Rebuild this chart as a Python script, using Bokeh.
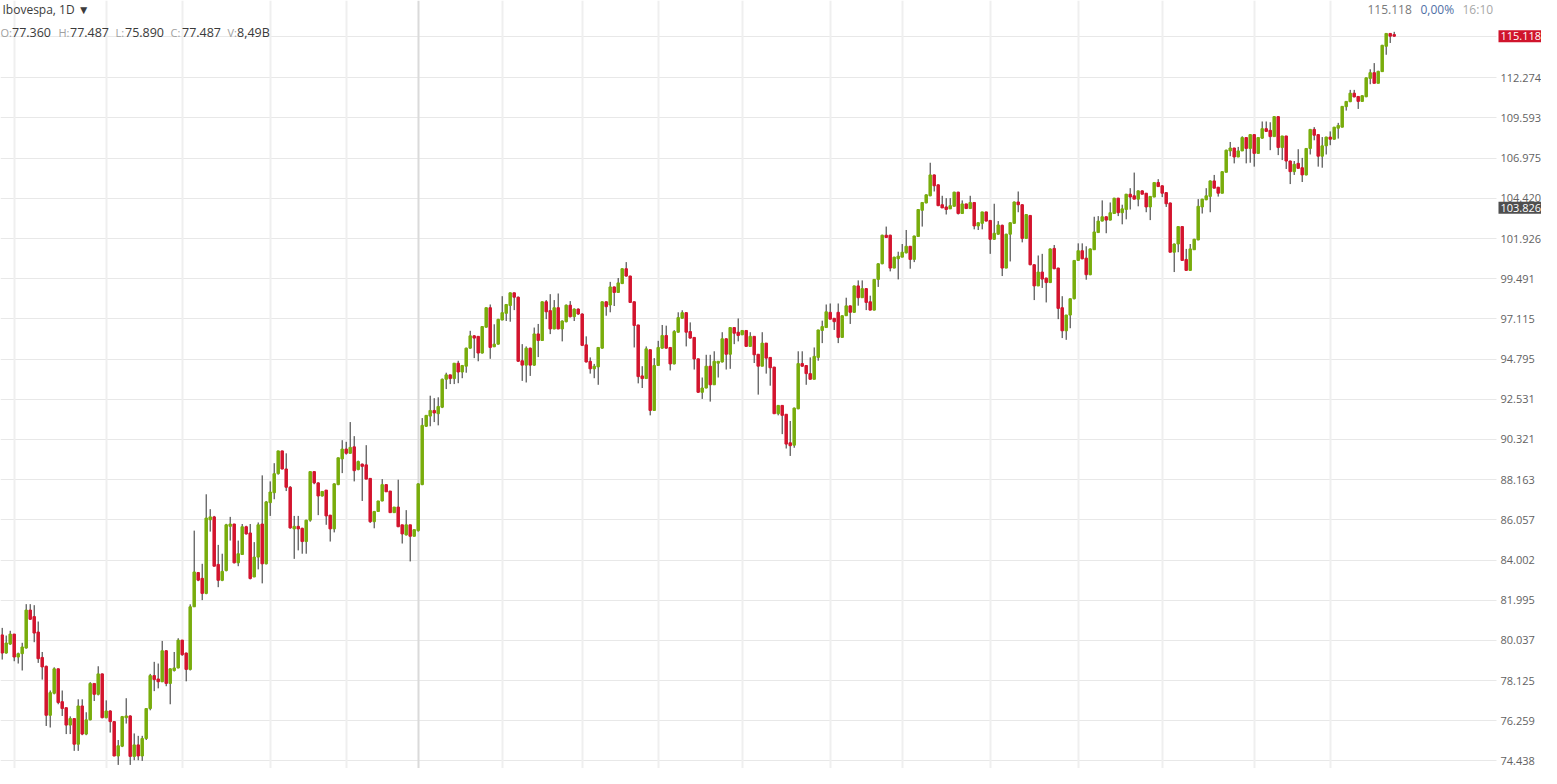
from bokeh.plotting import figure
from bokeh.models import (Range1d, FixedTicker, PrintfTickFormatter, Grid, Label,
                          ColumnDataSource, BoxAnnotation)
from bokeh.embed import file_html
from bokeh.resources import INLINE

# ---------------- data (Ibovespa daily, thousands of points) ----------------
opens = [
    80.30, 79.43, 79.86, 80.34, 79.24, 79.40, 79.67, 81.51, 81.19, 80.44,
    79.22, 78.80, 76.51, 77.53, 78.68, 77.14, 76.86, 76.06, 76.36, 75.19,
    76.94, 75.65, 76.30, 77.99, 77.48, 78.44, 76.40, 76.71, 76.22, 74.66,
    75.10, 76.40, 76.48, 74.64, 75.16, 74.66, 75.45, 76.82, 78.36, 78.20,
    78.07, 79.54, 77.99, 78.60, 78.72, 80.05, 79.43, 78.65, 81.67, 83.37,
    83.08, 82.33, 86.06, 86.21, 83.78, 82.98, 83.47, 85.72, 85.84, 83.86,
    84.28, 85.70, 85.38, 83.15, 84.15, 85.84, 83.81, 86.95, 87.47, 88.48,
    89.70, 88.73, 87.76, 85.59, 85.72, 85.62, 84.94, 86.04, 88.59, 87.99,
    87.30, 87.61, 86.30, 85.59, 87.90, 89.27, 89.80, 89.57, 89.92, 88.70,
    88.99, 88.95, 88.23, 85.96, 86.49, 87.04, 87.90, 87.56, 86.43, 86.72,
    85.80, 85.28, 85.80, 85.21, 85.50, 87.90, 91.04, 91.60, 91.91, 91.73,
    92.09, 93.65, 93.90, 93.69, 94.56, 94.06, 94.39, 95.42, 96.13, 96.10,
    95.14, 96.63, 97.77, 95.50, 95.65, 97.05, 97.44, 97.90, 98.65, 98.39,
    94.70, 94.45, 95.42, 94.45, 96.24, 95.86, 98.12, 97.60, 96.53, 97.77,
    96.53, 96.95, 97.92, 97.24, 97.69, 97.40, 95.61, 94.67, 94.24, 94.35,
    95.42, 98.12, 97.93, 99.00, 98.67, 99.20, 100.09, 99.65, 98.12, 96.76,
    93.84, 93.69, 95.33, 91.91, 94.43, 95.42, 96.15, 95.46, 94.52, 96.34,
    97.15, 97.48, 96.38, 96.04, 94.81, 92.92, 93.16, 94.39, 93.34, 94.56,
    94.63, 95.96, 95.07, 96.61, 96.34, 96.19, 96.44, 95.52, 96.10, 95.07,
    94.39, 95.71, 94.89, 94.34, 91.73, 92.19, 91.70, 90.14, 90.01, 92.00,
    94.54, 94.43, 93.97, 93.65, 94.89, 96.44, 96.61, 97.50, 97.15, 97.50,
    96.04, 97.30, 97.88, 97.50, 99.06, 98.36, 98.90, 98.12, 97.63, 99.45,
    100.39, 102.13, 102.13, 100.13, 100.69, 100.79, 101.05, 101.45, 100.65, 102.05,
    103.67, 104.13, 104.58, 105.90, 105.27, 104.02, 103.88, 103.76, 103.92, 104.81,
    103.47, 104.07, 103.78, 104.16, 102.70, 102.86, 103.57, 103.04, 101.88, 102.19,
    102.74, 100.13, 102.19, 102.86, 104.19, 104.02, 101.93, 103.35, 100.33, 99.06,
    99.89, 99.53, 99.26, 101.32, 100.13, 97.77, 96.42, 97.34, 98.30, 100.59,
    101.18, 100.73, 99.73, 101.24, 102.29, 103.00, 103.27, 103.06, 103.47, 104.43,
    103.52, 103.72, 104.68, 104.58, 104.37, 104.89, 104.74, 103.88, 104.50, 105.42,
    105.21, 104.78, 104.13, 101.09, 101.59, 102.66, 100.65, 99.99, 101.24, 101.84,
    103.88, 104.33, 104.54, 105.52, 105.12, 104.74, 106.07, 107.44, 107.63, 107.05,
    107.44, 108.31, 107.60, 108.50, 107.28, 108.27, 108.89, 108.78, 108.37, 109.68,
    107.66, 108.41, 106.79, 106.11, 106.64, 106.36, 105.90, 107.60, 108.84, 108.50,
    107.10, 107.77, 108.34, 108.20, 108.92, 108.99, 110.34, 110.67, 111.24, 111.02,
    110.69, 111.00, 112.23, 112.62, 111.90, 112.69, 114.42, 115.31, 115.23,
]
highs = [
    80.64, 80.27, 80.50, 80.35, 79.45, 79.92, 81.80, 81.80, 81.75, 80.95,
    79.48, 78.83, 77.66, 78.75, 78.70, 77.66, 76.87, 76.46, 76.37, 77.25,
    77.25, 76.65, 78.05, 77.99, 78.80, 78.46, 77.20, 76.74, 76.24, 75.38,
    76.48, 77.30, 76.51, 75.68, 75.57, 75.57, 76.83, 78.44, 79.01, 78.93,
    80.01, 79.57, 78.70, 79.48, 80.14, 80.06, 79.45, 81.79, 85.50, 83.40,
    83.81, 87.39, 86.61, 86.26, 84.77, 84.32, 85.85, 86.21, 85.85, 84.99,
    85.84, 85.75, 85.84, 84.91, 85.92, 88.39, 87.04, 88.07, 89.04, 89.71,
    89.71, 89.57, 87.82, 86.26, 86.26, 85.65, 86.06, 88.60, 88.60, 88.02,
    87.56, 87.61, 86.31, 87.97, 89.34, 90.28, 90.19, 91.27, 90.50, 89.18,
    89.02, 90.01, 88.23, 86.52, 87.04, 88.19, 87.92, 87.56, 86.72, 88.16,
    85.80, 86.56, 85.80, 85.55, 87.97, 91.49, 91.65, 92.73, 92.59, 92.64,
    93.69, 94.02, 93.91, 94.57, 94.70, 94.46, 95.45, 96.42, 96.17, 96.11,
    96.69, 97.79, 97.96, 96.80, 97.12, 98.45, 97.99, 98.67, 98.67, 98.43,
    95.65, 95.52, 95.45, 96.61, 96.82, 98.14, 98.22, 98.57, 98.22, 98.61,
    97.03, 97.96, 98.16, 97.73, 97.73, 97.44, 96.10, 94.89, 94.52, 95.48,
    98.14, 98.14, 99.30, 99.02, 99.53, 100.12, 100.49, 99.67, 98.14, 96.77,
    94.39, 95.52, 95.34, 94.85, 95.84, 96.76, 96.72, 95.48, 96.46, 97.50,
    97.62, 97.50, 96.91, 96.05, 94.82, 93.75, 95.04, 95.04, 95.24, 94.68,
    96.34, 95.99, 96.63, 96.63, 97.14, 96.46, 96.46, 96.34, 96.11, 95.07,
    96.34, 95.71, 94.91, 94.35, 92.20, 92.20, 91.71, 91.33, 92.07, 95.24,
    95.24, 94.44, 94.89, 95.46, 96.48, 97.01, 97.96, 98.02, 97.15, 98.02,
    97.32, 98.36, 97.90, 99.08, 99.39, 99.39, 98.93, 98.48, 99.46, 100.42,
    102.16, 102.66, 102.16, 100.81, 101.12, 101.59, 102.45, 101.47, 102.10, 103.75,
    104.18, 104.67, 106.68, 105.93, 105.30, 104.58, 104.43, 104.43, 104.83, 104.83,
    104.29, 104.08, 104.58, 104.18, 102.92, 103.58, 103.58, 103.07, 104.08, 103.00,
    102.78, 102.22, 102.92, 104.22, 104.85, 104.05, 103.44, 103.38, 100.36, 100.89,
    100.99, 99.55, 101.32, 101.53, 100.15, 98.45, 97.35, 98.31, 100.60, 101.63,
    101.63, 101.45, 101.32, 103.27, 103.31, 104.29, 103.29, 104.16, 104.45, 104.45,
    104.02, 104.70, 105.06, 106.05, 104.92, 104.92, 104.76, 104.55, 105.43, 105.63,
    105.24, 104.79, 104.15, 101.62, 102.68, 102.68, 101.29, 101.59, 101.91, 104.37,
    104.39, 105.06, 105.55, 105.90, 105.14, 106.12, 107.52, 108.02, 107.64, 107.70,
    108.39, 108.33, 108.52, 108.52, 108.33, 109.36, 109.36, 109.31, 109.71, 109.71,
    108.42, 108.42, 106.82, 106.79, 107.55, 106.99, 107.62, 108.87, 108.99, 108.52,
    108.34, 108.36, 108.71, 109.00, 109.27, 110.37, 110.70, 111.46, 111.46, 111.03,
    111.10, 112.29, 112.85, 113.27, 112.75, 114.52, 115.33, 115.33, 115.42,
]
lows = [
    79.12, 79.40, 79.82, 79.04, 78.93, 78.60, 79.64, 81.03, 79.95, 78.96,
    78.17, 76.02, 75.95, 77.48, 77.02, 76.48, 75.65, 75.65, 74.89, 74.89,
    75.60, 75.60, 76.28, 77.17, 77.43, 76.37, 76.37, 75.72, 74.65, 74.26,
    75.06, 76.13, 74.26, 74.47, 74.47, 74.44, 75.38, 76.74, 77.63, 77.76,
    78.05, 77.86, 77.02, 78.55, 78.70, 79.30, 78.09, 78.60, 81.66, 82.94,
    82.00, 82.29, 85.45, 83.68, 82.64, 82.94, 83.43, 84.99, 83.83, 83.69,
    84.26, 85.30, 83.03, 83.14, 83.53, 82.83, 83.78, 86.26, 87.13, 88.43,
    88.71, 87.56, 85.60, 84.06, 84.49, 84.32, 84.32, 85.96, 87.92, 86.30,
    87.27, 85.80, 84.94, 85.41, 87.87, 88.51, 89.50, 89.55, 88.07, 88.66,
    87.04, 88.18, 85.90, 85.62, 86.47, 87.02, 87.51, 86.41, 86.41, 85.68,
    84.84, 85.25, 83.93, 85.20, 85.45, 87.87, 91.00, 91.04, 91.27, 91.09,
    92.04, 93.10, 93.38, 93.38, 93.43, 93.71, 94.02, 95.39, 94.85, 94.67,
    95.11, 96.60, 94.81, 95.48, 95.62, 97.03, 96.99, 96.95, 97.63, 94.63,
    93.56, 93.47, 93.84, 94.41, 94.91, 95.83, 97.10, 96.23, 96.51, 96.51,
    95.81, 96.91, 97.20, 96.99, 97.35, 95.54, 94.60, 93.97, 93.71, 93.34,
    95.39, 97.30, 97.50, 97.87, 98.64, 99.17, 99.61, 98.05, 95.46, 93.42,
    93.16, 93.67, 91.64, 91.88, 94.41, 95.39, 95.39, 94.15, 94.49, 96.31,
    97.12, 95.52, 95.97, 94.20, 92.89, 92.55, 93.14, 92.40, 93.33, 93.75,
    94.60, 94.20, 94.24, 95.65, 95.81, 96.17, 95.51, 95.51, 94.57, 92.79,
    94.38, 93.97, 93.29, 91.71, 91.64, 90.61, 89.83, 89.43, 89.87, 91.98,
    94.35, 93.34, 93.64, 93.64, 94.70, 95.71, 96.60, 97.09, 96.47, 95.71,
    96.03, 97.29, 96.82, 97.47, 97.89, 98.35, 97.63, 97.61, 97.61, 99.00,
    100.36, 101.97, 99.93, 100.12, 99.45, 100.78, 101.02, 100.09, 100.49, 102.04,
    102.66, 104.11, 104.55, 104.85, 103.93, 103.81, 103.41, 103.75, 103.90, 103.41,
    103.44, 103.75, 103.75, 102.49, 102.45, 102.49, 102.98, 100.99, 101.85, 102.16,
    99.65, 100.12, 100.53, 102.83, 103.55, 101.69, 101.91, 100.30, 98.22, 99.05,
    98.94, 98.08, 99.23, 100.06, 97.10, 96.00, 95.90, 96.57, 98.26, 100.57,
    100.66, 99.43, 99.70, 101.23, 102.28, 102.98, 102.25, 103.04, 103.44, 103.31,
    102.80, 103.11, 103.72, 104.36, 103.92, 104.67, 103.55, 103.06, 104.49, 105.15,
    104.50, 103.88, 101.08, 99.89, 101.09, 100.57, 99.97, 99.97, 101.23, 101.82,
    103.47, 104.30, 103.55, 105.05, 104.53, 104.73, 106.06, 107.10, 106.64, 107.04,
    107.43, 106.64, 106.68, 106.43, 107.26, 108.23, 108.68, 107.49, 108.36, 107.17,
    106.85, 106.28, 105.32, 105.90, 106.31, 105.45, 105.87, 107.21, 108.13, 106.43,
    106.36, 107.21, 107.81, 108.17, 108.24, 108.97, 110.08, 110.64, 110.96, 110.19,
    110.67, 110.97, 111.84, 111.89, 111.89, 112.67, 113.84, 114.65, 115.08,
]
closes = [
    79.43, 79.91, 80.34, 79.24, 79.40, 79.72, 81.51, 81.06, 80.39, 79.16,
    78.77, 76.51, 77.56, 78.68, 77.10, 76.82, 76.06, 76.36, 75.19, 76.94,
    75.65, 76.30, 77.99, 77.48, 78.44, 76.40, 76.71, 76.22, 74.66, 75.12,
    76.45, 76.48, 74.64, 75.16, 74.66, 75.45, 76.82, 78.36, 78.17, 78.07,
    79.54, 77.99, 78.68, 78.72, 80.05, 79.35, 78.65, 81.67, 83.40, 82.99,
    82.33, 86.15, 86.21, 83.69, 82.98, 83.43, 85.80, 85.84, 83.86, 84.32,
    85.70, 85.33, 83.07, 84.15, 85.80, 83.81, 86.99, 87.51, 88.48, 89.70,
    88.73, 87.76, 85.64, 85.72, 85.59, 84.94, 86.04, 88.59, 87.99, 87.30,
    87.54, 86.26, 85.59, 87.94, 89.33, 89.80, 89.57, 89.89, 88.64, 89.13,
    88.87, 88.19, 85.96, 86.49, 87.04, 87.90, 87.52, 86.43, 86.72, 85.70,
    85.33, 85.80, 85.21, 85.55, 87.94, 91.09, 91.64, 91.91, 91.77, 92.13,
    93.65, 93.90, 93.69, 94.56, 94.06, 94.43, 95.42, 96.13, 96.00, 95.14,
    96.67, 97.77, 95.46, 95.65, 97.09, 97.48, 97.96, 98.65, 98.39, 94.67,
    94.45, 95.42, 94.45, 96.24, 95.86, 98.12, 97.53, 96.53, 97.77, 96.53,
    96.99, 97.92, 97.24, 97.69, 97.40, 95.58, 94.63, 94.24, 94.39, 95.46,
    98.12, 97.83, 99.00, 98.67, 99.24, 100.09, 99.65, 98.08, 96.73, 93.80,
    93.69, 95.38, 91.91, 94.43, 95.46, 96.15, 95.42, 94.52, 96.38, 97.19,
    97.48, 96.34, 96.00, 94.80, 92.92, 93.16, 94.39, 93.34, 94.67, 94.67,
    95.96, 95.07, 96.61, 96.28, 96.15, 96.44, 95.52, 96.10, 95.04, 94.39,
    95.71, 94.85, 94.30, 91.73, 92.19, 91.64, 90.07, 89.98, 92.04, 94.54,
    94.39, 93.97, 93.65, 94.95, 96.47, 96.67, 97.53, 97.10, 96.95, 96.04,
    97.30, 97.88, 97.50, 99.06, 98.36, 98.90, 98.08, 97.63, 99.45, 100.39,
    102.13, 101.99, 100.13, 100.79, 100.85, 101.09, 101.45, 100.65, 102.08, 103.72,
    104.16, 104.64, 105.90, 105.21, 103.96, 103.82, 103.72, 103.96, 104.81, 103.47,
    104.07, 103.78, 104.16, 102.70, 102.90, 103.57, 103.00, 101.88, 102.25, 102.76,
    100.13, 102.19, 102.90, 104.19, 104.02, 101.93, 103.41, 100.33, 99.06, 99.89,
    99.47, 99.26, 101.29, 100.09, 97.73, 96.42, 97.34, 98.30, 100.59, 101.18,
    100.69, 99.73, 101.29, 102.33, 103.00, 103.27, 103.06, 103.52, 104.43, 103.52,
    103.76, 104.68, 104.50, 104.37, 104.89, 104.68, 103.88, 104.54, 105.42, 105.16,
    104.74, 104.08, 101.09, 101.59, 102.66, 100.59, 99.99, 101.29, 101.88, 103.92,
    104.37, 104.58, 105.52, 105.06, 104.74, 106.11, 107.49, 107.63, 107.05, 107.44,
    108.31, 107.60, 108.50, 107.28, 108.31, 108.89, 108.71, 108.37, 109.68, 107.66,
    108.41, 106.79, 106.11, 106.58, 106.32, 105.90, 107.60, 108.84, 108.46, 107.10,
    107.77, 108.34, 108.20, 108.99, 109.10, 110.36, 110.69, 111.24, 110.99, 110.69,
    111.07, 112.27, 112.62, 111.90, 112.71, 114.49, 115.31, 115.12, 115.118,
]

# price-scale tick labels (right axis)
y_ticks = [74.438, 76.259, 78.125, 80.037, 81.995, 84.002, 86.057, 88.163,
           90.321, 92.531, 94.795, 97.115, 99.491, 101.926, 104.420, 106.975,
           109.593, 112.274, 115.118]

# bar index of first session of each month (vertical grid), and of the new year
month_starts = [4, 27, 46, 68, 87, 126, 146, 165, 186, 208, 226, 248, 270, 291, 314, 333]
year_starts = [105]

title_text = "Ibovespa, 1D \u25BC"
legend_keys = ["O:", "H:", "L:", "C:", "V:"]
legend_vals = ["77.360", "77.487", "75.890", "77.487", "8,49B"]
quote_texts = ["115.118", "0,00%", "16:10"]
last_price = 115.118
marker_price = 103.826
marker_text = "103.826"

# ---------------- figure ----------------
FONT = "Open Sans"
W, H = 1541, 768
SCALE_X = 1494          # pixel where the price scale starts
PX = 4.0                # pixels per bar
X0 = 1.7                # pixel centre of first bar
n = len(closes)

p = figure(width=W, height=H, y_axis_type="log",
           x_axis_location=None, y_axis_location="right",
           x_range=Range1d(-X0 / PX, (W - X0) / PX),
           y_range=Range1d(74.10, 117.617),
           output_backend="svg", toolbar_location=None,
           min_border_left=0, min_border_top=0, min_border_bottom=0,
           min_border_right=0)
p.outline_line_color = None
p.background_fill_color = "white"
p.border_fill_color = "white"
for g in p.xgrid:
    g.visible = False

yax = p.yaxis[0]
yax.fixed_location = (SCALE_X - X0) / PX
yax.ticker = FixedTicker(ticks=y_ticks)
yax.formatter = PrintfTickFormatter(format="%.3f")
yax.axis_line_color = None
yax.major_tick_line_color = None
yax.minor_tick_line_color = None
yax.major_tick_out = 0
yax.major_tick_in = 0
yax.minor_tick_out = 0
yax.minor_tick_in = 0
yax.major_label_standoff = 6
yax.major_label_text_color = "#626262"
yax.major_label_text_font = FONT
yax.major_label_text_font_size = "11px"

p.ygrid.ticker = FixedTicker(ticks=y_ticks)
p.ygrid.grid_line_color = "#e8e8e8"
p.ygrid.grid_line_width = 1

p.add_layout(Grid(dimension=0, ticker=FixedTicker(ticks=[m - 0.9 for m in month_starts]),
                  grid_line_color="#efefef", grid_line_width=2))
p.add_layout(Grid(dimension=0, ticker=FixedTicker(ticks=[m - 0.9 for m in year_starts]),
                  grid_line_color="#dadada", grid_line_width=2))

# price-scale strip background (hides grid lines under the labels)
p.add_layout(BoxAnnotation(left=SCALE_X + 2, right=W, left_units="screen", right_units="screen",
                           fill_color="white", fill_alpha=1.0, line_color=None,
                           level="underlay"))

GREEN, RED = "#79ad0d", "#d3152e"
src = ColumnDataSource(dict(
    x=list(range(n)), o=opens, h=highs, l=lows, c=closes,
    top=[max(a, b) for a, b in zip(opens, closes)],
    bottom=[min(a, b) for a, b in zip(opens, closes)],
    color=[GREEN if c >= o else RED for o, c in zip(opens, closes)],
))
p.segment(x0="x", y0="h", x1="x", y1="l", source=src, line_color="#2d2d2d", line_width=1)
p.vbar(x="x", width=0.62, top="top", bottom="bottom", source=src,
       fill_color="color", line_color="color", line_width=1)

# ---------------- texts ----------------
def lab(x, y_from_top, text, color, size="12px", align="left"):
    p.add_layout(Label(x=x, y=H - y_from_top, x_units="screen", y_units="screen",
                       text=text, text_color=color, text_font=FONT,
                       text_font_size=size, text_baseline="middle", text_align=align))

lab(2, 8.5, title_text, "#3c3c3c", "12px")
key_x = [0, 58, 115, 170, 227]
val_x = [11.5, 69.5, 124.5, 181.5, 236.5]
for kx, vx, k, v in zip(key_x, val_x, legend_keys, legend_vals):
    lab(kx, 31.5, k, "#a0a0a0", "11px")
    lab(vx, 31.5, v, "#3a3a3a", "12.5px")

lab(1367, 9, quote_texts[0], "#7a7a7a", "12px")
lab(1420, 9, quote_texts[1], "#4f6fa6", "12px")
lab(1462, 9, quote_texts[2], "#a8a8a8", "12px")

for price, txt, bg in [(last_price, f"{last_price:.3f}", "#d0142c"),
                       (marker_price, marker_text, "#4f4f4f")]:
    p.add_layout(Label(x=SCALE_X + 4, y=price, x_units="screen", y_units="data",
                       text=txt, text_color="white", text_font=FONT,
                       text_font_size="11px", text_baseline="middle",
                       background_fill_color=bg, padding=2))

open("out.html", "w").write(file_html(p, INLINE))
